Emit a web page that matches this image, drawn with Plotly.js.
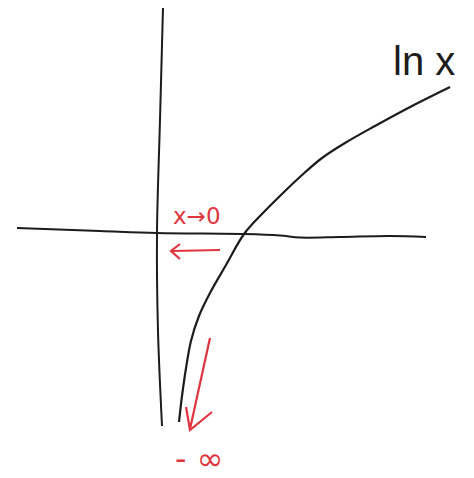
<!DOCTYPE html>
<html>
<head>
<meta charset="utf-8">
<script src="https://cdn.plot.ly/plotly-3.0.1.min.js"></script>
<style>html,body{margin:0;padding:0;background:#fff;}#chart{width:474px;height:478px;}</style>
</head>
<body>
<div id="chart"></div>
<script>
// Sketch units: origin where the hand-drawn axes cross; x = 1 where the curve meets the x-axis.
// Hand-drawn curve "ln x"
const curveX = [0.250, 0.284, 0.330, 0.386, 0.477, 0.602, 0.784, 0.989, 1.193, 1.420, 1.648, 1.875, 2.136, 2.477, 2.898, 3.330];
const curveY = [-1.89, -1.63, -1.35, -1.08, -0.83, -0.60, -0.32, -0.01, 0.19, 0.39, 0.58, 0.75, 0.90, 1.07, 1.27, 1.46];

// Hand-drawn vertical axis
const yAxisX = [0.068, 0.034, 0.0, 0.011, 0.057];
const yAxisY = [2.25, 1.13, 0.0, -0.97, -1.93];

// Hand-drawn horizontal axis (slightly wavy)
const xAxisX = [-1.591, -0.648, 0.0, 1.0, 1.398, 1.625, 2.080, 2.648, 3.057];
const xAxisY = [0.05, 0.02, 0.0, -0.01, -0.025, -0.045, -0.04, -0.03, -0.04];

// Red arrow pointing left (shaft, then head), null separates strokes
const leftArrowX = [0.716, 0.170, null, 0.261, 0.159, 0.261];
const leftArrowY = [-0.17, -0.18, null, -0.11, -0.18, -0.26];

// Red arrow pointing down (shaft, then head)
const downArrowX = [0.602, 0.375, null, 0.330, 0.375, 0.625];
const downArrowY = [-1.05, -1.96, null, -1.74, -1.97, -1.79];

// Labels
const labelTexts = ["ln x", "x→0", "- ∞"];
const labelX = [3.03, 0.455, 0.475];
const labelY = [1.72, 0.17, -2.26];

const black = "#1c1c1c";
const red = "#e0353f";

const traces = [
  {x: yAxisX, y: yAxisY, mode: "lines", line: {color: black, width: 2, shape: "spline"}},
  {x: xAxisX, y: xAxisY, mode: "lines", line: {color: black, width: 2, shape: "spline"}},
  {x: curveX, y: curveY, mode: "lines", line: {color: black, width: 2.2, shape: "spline", smoothing: 1}},
  {x: leftArrowX, y: leftArrowY, mode: "lines", line: {color: red, width: 2.2}},
  {x: downArrowX, y: downArrowY, mode: "lines", line: {color: red, width: 2.2}}
];

const labelSizes = [40, 23, 32];
const labelColors = [black, red, red];
const labelFonts = ["Liberation Sans, Arial, sans-serif", "DejaVu Sans, sans-serif", "DejaVu Sans, sans-serif"];
const annotations = labelTexts.map((t, i) => ({
  x: labelX[i], y: labelY[i], xref: "x", yref: "y", text: t, showarrow: false,
  font: {family: labelFonts[i], size: labelSizes[i], color: labelColors[i]}
}));

const layout = {
  width: 474, height: 478,
  margin: {l: 0, r: 0, t: 0, b: 0},
  paper_bgcolor: "#ffffff", plot_bgcolor: "#ffffff",
  showlegend: false,
  xaxis: {range: [-1.784, 3.602], visible: false, fixedrange: true},
  yaxis: {range: [-2.45, 2.33], visible: false, fixedrange: true},
  annotations: annotations
};

Plotly.newPlot("chart", traces, layout, {staticPlot: true, displayModeBar: false});
</script>
</body>
</html>
